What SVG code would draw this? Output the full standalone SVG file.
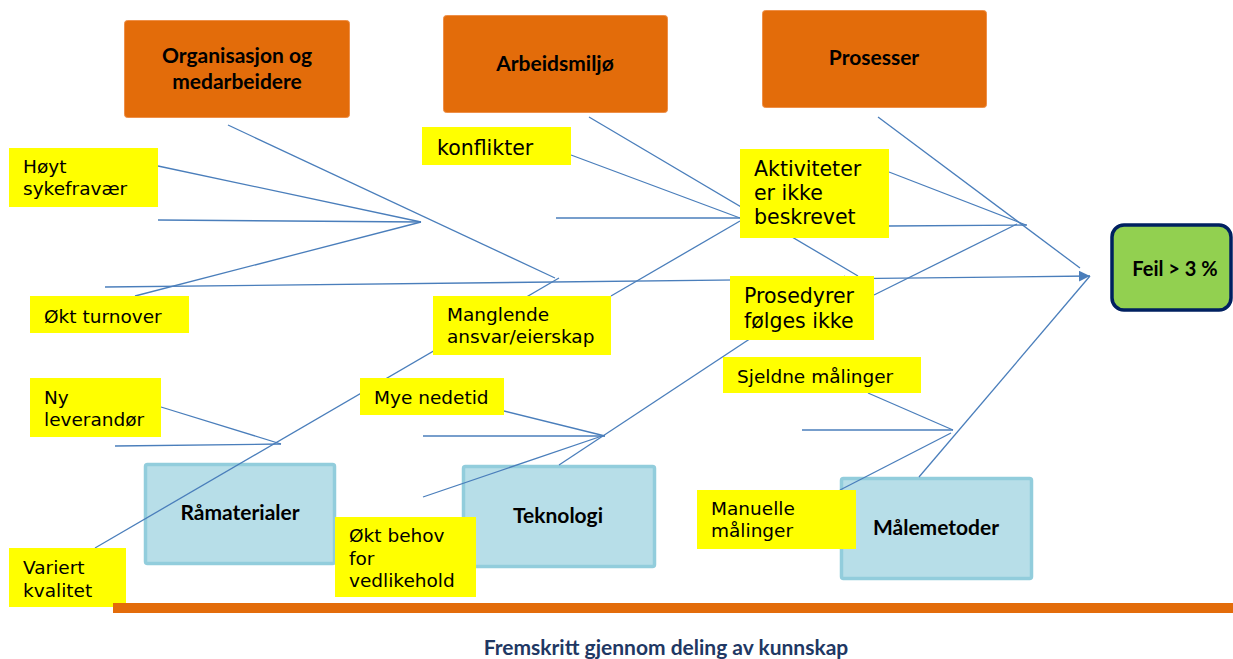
<svg xmlns="http://www.w3.org/2000/svg" width="1233" height="659" viewBox="0 0 1233 659">
  <style>
    .cat { fill: #e36c0a; stroke: #ee8f48; stroke-width: 1; }
    .src { fill: #b7dee8; stroke: #92cddc; stroke-width: 3.5; }
    .note { fill: #ffff00; }
    .effect { fill: #92d050; stroke: #002060; stroke-width: 3.5; }
    .hd { font-family: Lato, "Liberation Sans", sans-serif; font-weight: bold; fill: #000; text-anchor: middle; }
    .t { font-family: "DejaVu Sans", Verdana, sans-serif; font-size: 18.5px; fill: #000; }
    .tl { font-family: "DejaVu Sans", Verdana, sans-serif; font-size: 20.5px; fill: #000; }
    .ln { stroke: #4a7ebb; stroke-width: 1.3; fill: none; }
    .foot { font-family: Lato, "Liberation Sans", sans-serif; font-weight: bold; font-size: 21px; fill: #1f3864; text-anchor: middle; }
  </style>
  <defs>
    <marker id="arrow" markerUnits="userSpaceOnUse" markerWidth="12" markerHeight="12" refX="11" refY="5.5" orient="auto">
      <path d="M0,0 L11,5.5 L0,11 Z" fill="#4a7ebb"/>
    </marker>
  </defs>

  <rect width="1233" height="659" fill="#ffffff"/>

  <!-- bottom category boxes (connectors run over them) -->
  <g id="node-ramaterialer">
    <rect class="src" x="145.5" y="464.5" width="189" height="99" rx="2"/>
    <text class="hd" x="240" y="520" font-size="21">Råmaterialer</text>
  </g>
  <g id="node-teknologi">
    <rect class="src" x="463.5" y="466.5" width="191" height="100" rx="2"/>
    <text class="hd" x="558" y="523" font-size="21">Teknologi</text>
  </g>
  <g id="node-malemetoder">
    <rect class="src" x="841.5" y="478.5" width="190" height="100" rx="2"/>
    <text class="hd" x="936" y="535" font-size="21">Målemetoder</text>
  </g>

  <!-- connectors -->
  <g id="connectors" class="ln">
    <!-- spine -->
    <line x1="105" y1="287" x2="1090" y2="276" marker-end="url(#arrow)"/>
    <!-- Organisasjon og medarbeidere -->
    <line x1="228" y1="125" x2="555" y2="278"/>
    <line x1="158" y1="166" x2="421" y2="222"/>
    <line x1="158" y1="220" x2="421" y2="222"/>
    <line x1="135" y1="296" x2="421" y2="222"/>
    <!-- Arbeidsmiljø -->
    <line x1="589" y1="117" x2="858" y2="276"/>
    <line x1="571" y1="155" x2="740" y2="218"/>
    <line x1="556" y1="218" x2="740" y2="218"/>
    <line x1="611" y1="296" x2="740" y2="221"/>
    <!-- Prosesser -->
    <line x1="878" y1="117" x2="1080" y2="268"/>
    <line x1="889" y1="172" x2="1026" y2="225"/>
    <line x1="889" y1="226" x2="1027" y2="225"/>
    <line x1="874" y1="295" x2="1017" y2="224"/>
    <!-- Råmaterialer -->
    <line x1="95" y1="548" x2="559" y2="278"/>
    <line x1="161" y1="407" x2="281" y2="444"/>
    <line x1="115" y1="446" x2="281" y2="444"/>
    <!-- Teknologi -->
    <line x1="559" y1="465" x2="845" y2="276"/>
    <line x1="504" y1="411" x2="605" y2="436"/>
    <line x1="423" y1="436" x2="605" y2="436"/>
    <line x1="423" y1="497" x2="602" y2="436"/>
    <!-- Målemetoder -->
    <line x1="919" y1="477" x2="1090" y2="276"/>
    <line x1="868" y1="393" x2="953" y2="430"/>
    <line x1="802" y1="430" x2="953" y2="430"/>
    <line x1="840" y1="490" x2="951" y2="433"/>
  </g>

  <!-- main category boxes -->
  <g id="node-organisasjon">
    <rect class="cat" x="124.5" y="20.5" width="225" height="97" rx="3"/>
    <text class="hd" x="237" y="63" font-size="21">Organisasjon og</text>
    <text class="hd" x="237" y="89" font-size="21">medarbeidere</text>
  </g>
  <g id="node-arbeidsmiljo">
    <rect class="cat" x="443.5" y="15.5" width="224" height="97" rx="3"/>
    <text class="hd" x="555" y="71" font-size="21">Arbeidsmiljø</text>
  </g>
  <g id="node-prosesser">
    <rect class="cat" x="762.5" y="10.5" width="224" height="97" rx="3"/>
    <text class="hd" x="874" y="65" font-size="21">Prosesser</text>
  </g>

  <!-- effect -->
  <g id="node-feil">
    <rect class="effect" x="1112" y="225" width="119" height="85" rx="12"/>
    <text class="hd" x="1175" y="276" font-size="20">Feil &gt; 3 %</text>
  </g>

  <!-- causes -->
  <g id="cause-hoyt-sykefravaer">
    <rect class="note" x="9" y="148" width="149" height="59"/>
    <text class="t" x="23" y="173">Høyt</text>
    <text class="t" x="23" y="195">sykefravær</text>
  </g>
  <g id="cause-okt-turnover">
    <rect class="note" x="30" y="296" width="159" height="37"/>
    <text class="t" x="44" y="323">Økt turnover</text>
  </g>
  <g id="cause-konflikter">
    <rect class="note" x="422" y="127" width="149" height="38"/>
    <text class="tl" x="437" y="155">konflikter</text>
  </g>
  <g id="cause-manglende-ansvar">
    <rect class="note" x="433" y="296" width="178" height="59"/>
    <text class="t" x="447" y="321">Manglende</text>
    <text class="t" x="447" y="343">ansvar/eierskap</text>
  </g>
  <g id="cause-aktiviteter">
    <rect class="note" x="740" y="149" width="149" height="89"/>
    <text class="tl" x="754" y="176">Aktiviteter</text>
    <text class="tl" x="754" y="200">er ikke</text>
    <text class="tl" x="754" y="224">beskrevet</text>
  </g>
  <g id="cause-prosedyrer">
    <rect class="note" x="730" y="276" width="144" height="64"/>
    <text class="tl" x="744" y="303">Prosedyrer</text>
    <text class="tl" x="744" y="328">følges ikke</text>
  </g>
  <g id="cause-ny-leverandor">
    <rect class="note" x="30" y="378" width="131" height="59"/>
    <text class="t" x="44" y="404">Ny</text>
    <text class="t" x="44" y="426">leverandør</text>
  </g>
  <g id="cause-mye-nedetid">
    <rect class="note" x="360" y="378" width="144" height="37"/>
    <text class="t" x="374" y="404">Mye nedetid</text>
  </g>
  <g id="cause-sjeldne-malinger">
    <rect class="note" x="723" y="357" width="198" height="36"/>
    <text class="t" x="737" y="383">Sjeldne målinger</text>
  </g>
  <g id="cause-variert-kvalitet">
    <rect class="note" x="9" y="548" width="117" height="59"/>
    <text class="t" x="23" y="574">Variert</text>
    <text class="t" x="23" y="597">kvalitet</text>
  </g>
  <g id="cause-okt-behov">
    <rect class="note" x="335" y="517" width="141" height="80"/>
    <text class="t" x="349" y="542">Økt behov</text>
    <text class="t" x="349" y="565">for</text>
    <text class="t" x="349" y="587">vedlikehold</text>
  </g>
  <g id="cause-manuelle-malinger">
    <rect class="note" x="697" y="490" width="159" height="59"/>
    <text class="t" x="711" y="515">Manuelle</text>
    <text class="t" x="711" y="537">målinger</text>
  </g>

  <!-- footer -->
  <rect x="113" y="603" width="1120" height="10" fill="#e36c0a"/>
  <text class="foot" x="666" y="655">Fremskritt gjennom deling av kunnskap</text>
</svg>
